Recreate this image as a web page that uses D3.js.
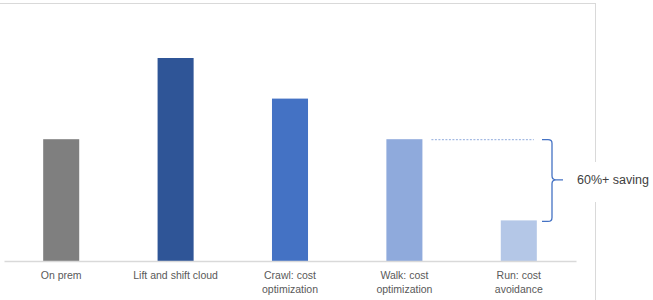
<!DOCTYPE html>
<html><head><meta charset="utf-8">
<script src="https://cdn.jsdelivr.net/npm/d3@7"></script>
<style>body{margin:0;background:#fff}svg{display:block}</style>
</head><body>
<svg id="c" width="653" height="300"></svg>
<script>
const categories = ["On prem", "Lift and shift cloud", "Crawl: cost optimization", "Walk: cost optimization", "Run: cost avoidance"];
const labelLines = [["On prem"], ["Lift and shift cloud"], ["Crawl: cost", "optimization"], ["Walk: cost", "optimization"], ["Run: cost", "avoidance"]];
const values = [3, 5, 4, 3, 1];
const colors = ["#7f7f7f", "#2f5597", "#4472c4", "#8faadc", "#b4c7e7"];
const annotation = "60%+ saving";

const svg = d3.select("#c");
const x = d3.scaleBand().domain(categories).range([4, 576]).paddingInner(0.685).paddingOuter(0.3425);
const y = d3.scaleLinear().domain([0, 5]).range([261, 58]);

// frame
svg.append("line").attr("x1", 0).attr("x2", 595).attr("y1", 3.5).attr("y2", 3.5).attr("stroke", "#d9d9d9");
svg.append("line").attr("x1", 595.5).attr("x2", 595.5).attr("y1", 3).attr("y2", 300).attr("stroke", "#d9d9d9");

// bars
svg.selectAll("rect.bar").data(values).join("rect").attr("class", "bar")
  .attr("x", (d, i) => x(categories[i])).attr("width", x.bandwidth())
  .attr("y", d => y(d)).attr("height", d => y(0) - y(d))
  .attr("fill", (d, i) => colors[i]);

// axis
const ax = svg.append("g").attr("transform", `translate(0,${y(0)})`)
  .call(d3.axisBottom(x).tickSize(0).tickFormat(""));
ax.select(".domain").attr("stroke", "#d9d9d9").attr("stroke-width", 1.5);

// labels
const lab = svg.append("g");
categories.forEach((c, i) => {
  const t = lab.append("text").attr("x", x(c) + x.bandwidth() / 2).attr("y", 279)
    .attr("text-anchor", "middle").attr("font-family", "Liberation Sans, Arial, sans-serif")
    .attr("font-size", 10.5).attr("fill", "#595959");
  labelLines[i].forEach((l, j) => t.append("tspan").attr("x", x(c) + x.bandwidth() / 2).attr("dy", j ? 14 : 0).text(l));
});

// dashed guide from Walk bar top
const walkTop = y(values[3]);
const runTop = y(values[4]);
svg.append("line").attr("x1", x(categories[3]) + x.bandwidth() + 9).attr("x2", x(categories[4]) + x.bandwidth() - 3)
  .attr("y1", walkTop + 0.5).attr("y2", walkTop + 0.5)
  .attr("stroke", "#8faadc").attr("stroke-dasharray", "2,1.5").attr("stroke-width", 1);

// brace
const bx0 = 542, bx1 = 552, tip = 563;
const mid = (walkTop + runTop) / 2;
const r = 4;
const p = d3.path();
p.moveTo(bx0, walkTop + 0.5);
p.lineTo(bx1 - r, walkTop + 0.5);
p.quadraticCurveTo(bx1, walkTop + 0.5, bx1, walkTop + r);
p.lineTo(bx1, mid - r);
p.quadraticCurveTo(bx1, mid, bx1 + r, mid);
p.lineTo(tip, mid);
p.moveTo(bx1 + r, mid);
p.quadraticCurveTo(bx1, mid, bx1, mid + r);
p.lineTo(bx1, runTop + 1 - r);
p.quadraticCurveTo(bx1, runTop + 1, bx1 - r, runTop + 1);
p.lineTo(bx0, runTop + 1);
svg.append("path").attr("d", p.toString()).attr("fill", "none").attr("stroke", "#4472c4").attr("stroke-width", 1.3);

// annotation
svg.append("rect").attr("x", 572).attr("y", 162).attr("width", 81).attr("height", 40).attr("fill", "#fff");
svg.append("text").attr("x", 577).attr("y", mid + 4.5).attr("font-family", "Liberation Sans, Arial, sans-serif")
  .attr("font-size", 12.5).attr("fill", "#404040").text(annotation);
</script>
</body></html>
